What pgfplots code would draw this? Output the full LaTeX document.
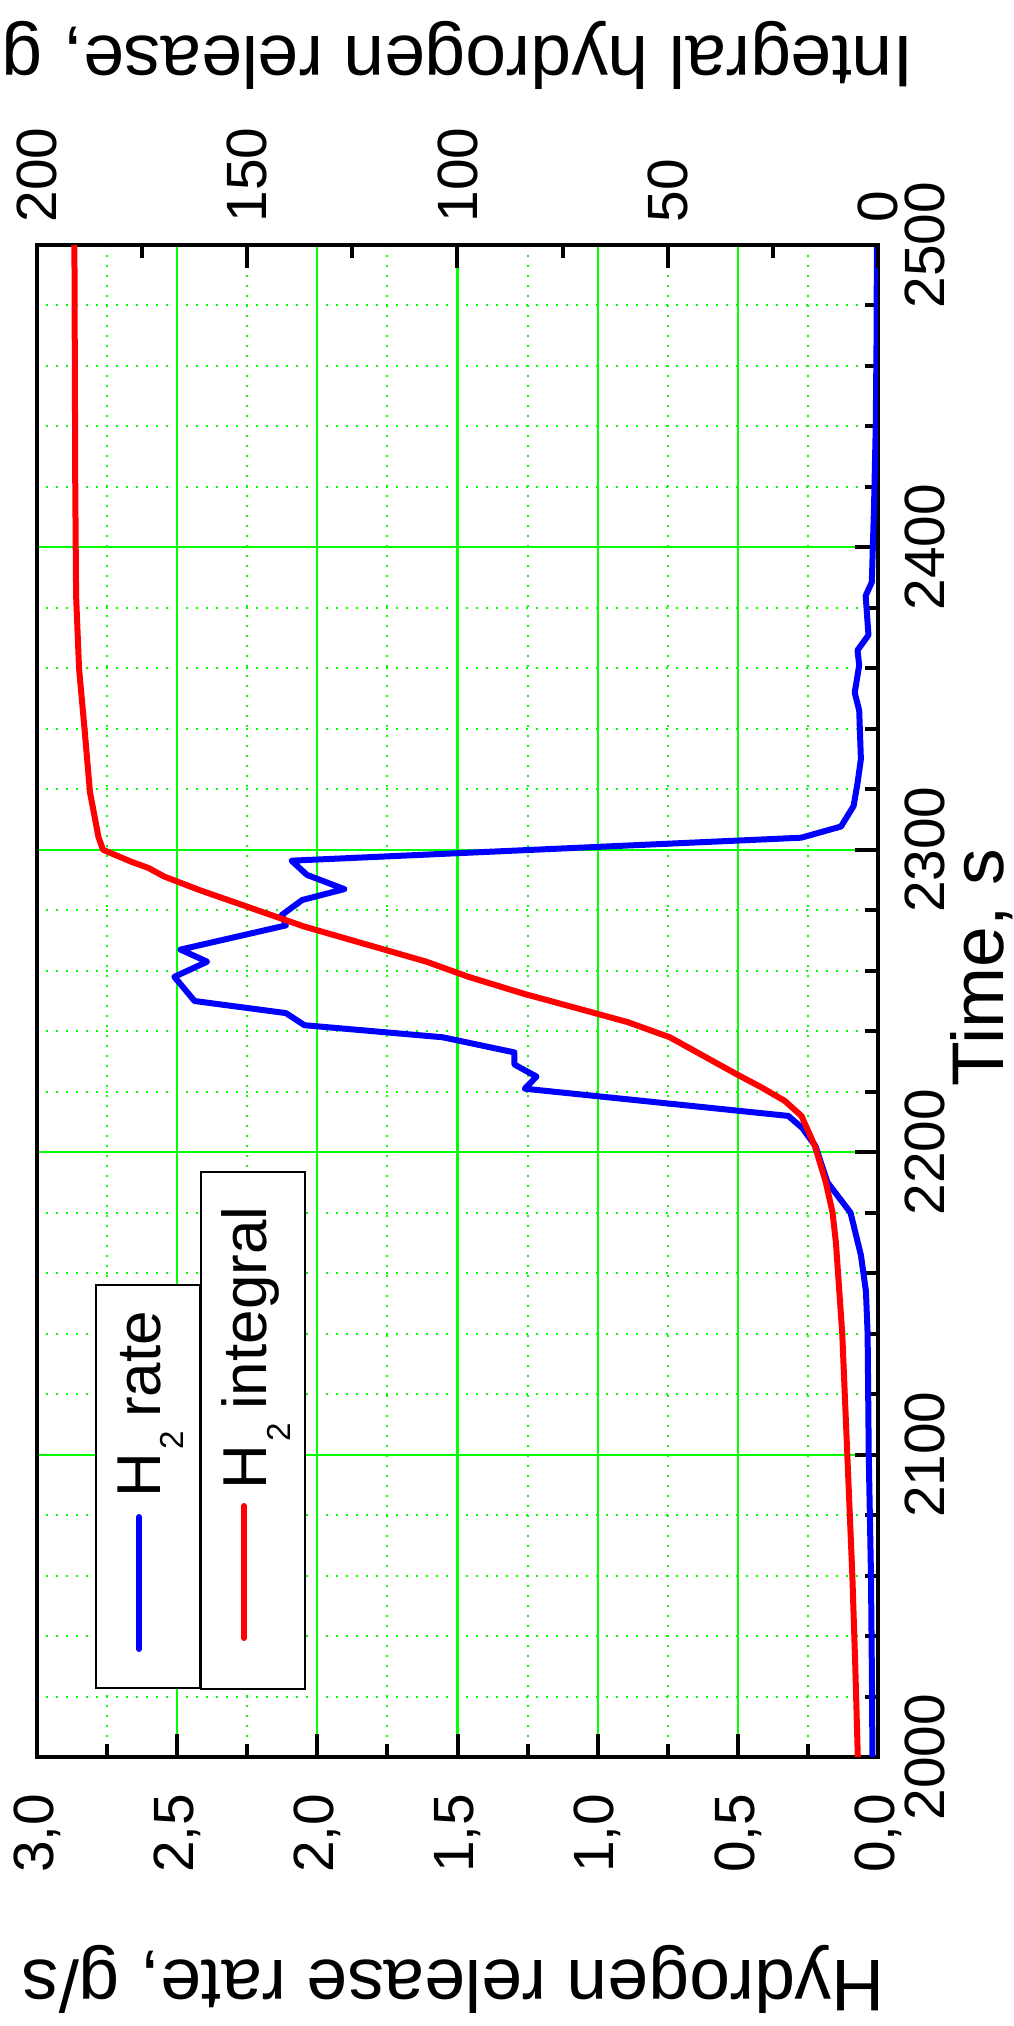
\documentclass[border=0pt]{standalone}
\usepackage{fontspec}
\setmainfont{Liberation Sans}
\usepackage{graphicx}
\usepackage{pgfplots}
\usepackage{pgfplotstable}
\pgfplotsset{compat=1.18}
\definecolor{hblue}{RGB}{0,0,255}
\definecolor{hred}{RGB}{255,0,0}
\definecolor{hgreen}{RGB}{0,255,0}

\pgfplotstableread{
t r
2000 0.020
2020 0.021
2040 0.023
2060 0.025
2080 0.029
2100 0.033
2120 0.035
2140 0.037
2154 0.043
2166 0.061
2180 0.098
2190 0.180
2202 0.223
2208 0.270
2212 0.320
2221 1.260
2225 1.218
2229 1.297
2233 1.297
2238 1.553
2242 2.046
2246 2.112
2250 2.438
2258 2.510
2263 2.393
2267 2.488
2275 2.112
2278.5 2.126
2283.4 2.054
2287 1.904
2291.7 2.037
2296.4 2.092
2304 0.274
2307.7 0.132
2314.5 0.087
2322 0.073
2330 0.061
2346 0.067
2352 0.083
2361 0.067
2366 0.073
2371 0.034
2384 0.044
2388.5 0.022
2414 0.014
2440 0.008
2470 0.005
2500 0.004
}\ratetable

\pgfplotstableread{
t m
2000 4.8
2030 5.4
2060 6.1
2100 7.3
2140 8.5
2170 10.0
2180 10.8
2190 12.4
2202 15.0
2212 18.2
2217 22.2
2221.5 27.8
2226 33.9
2238 49.5
2243 59.5
2246.4 68.4
2252.3 84.0
2258 97.4
2263 107.4
2267 117.4
2274.6 136.4
2286.7 161.4
2291.2 169.8
2294 173.5
2296 177.5
2300 184.3
2304.3 185.4
2311 186.3
2319 187.4
2340 188.7
2360 190.0
2384 190.7
2420 190.9
2500 191.1
}\inttable

\newcommand{\tickfont}{\fontsize{14.2}{16}\selectfont}
\newcommand{\labfont}{\fontsize{18.3}{22}\selectfont}
\newcommand{\legfont}{\fontsize{15.5}{18}\selectfont}
\newcommand{\Hsub}{H\hspace{0.6pt}\raisebox{-5.9pt}{\fontsize{8.3}{9}\selectfont 2}\hspace{3.4pt}}

\begin{document}
\rotatebox{90}{%
\begin{tikzpicture}
\begin{axis}[
  scale only axis, width=378pt, height=210.25pt,
  xmin=2000, xmax=2500, ymin=0, ymax=3,
  xtick={2000,2100,2200,2300,2400,2500}, minor x tick num=4,
  ytick={0,0.5,1,1.5,2,2.5,3}, minor y tick num=1,
  tick align=inside, xtick pos=bottom, ytick pos=left,
  major tick length=5.75pt, minor tick length=3.25pt,
  tick style={black, line width=1.0pt},
  axis line style={line width=1.1pt},
  grid=both,
  major grid style={hgreen, line width=0.55pt, solid},
  minor grid style={hgreen, line width=0.5pt, dash pattern=on 0.6pt off 1.9pt},
  /pgf/number format/assume math mode=true,
  xlabel={Time, s},
  xlabel style={at={(axis description cs:0.522,-0.14982)}, anchor=base, inner sep=0pt, font=\labfont},
  ylabel={Hydrogen release rate, g/s},
  ylabel style={at={(axis description cs:-0.13426,0.505)}, anchor=base, inner sep=0pt, font=\labfont},
  xticklabel style={font=\tickfont, anchor=north, inner sep=0pt, yshift=-6.5pt, /pgf/number format/1000 sep={}},
  yticklabel style={font=\tickfont, anchor=east, inner sep=0pt, xshift=-9pt, /pgf/number format/.cd, use comma, fixed, fixed zerofill, precision=1},
  legend style={at={(axis description cs:0.04497,0.93103)}, anchor=north west, draw=black, line width=0.5pt, fill=white, inner xsep=0pt, inner ysep=0pt, font=\legfont, cells={anchor=west}, nodes={inner sep=0pt, text depth=0pt, text width=53pt, align=left}, /tikz/column sep=0pt},
  legend image code/.code={\path[draw=none, fill=none] (0pt,-15.25pt) rectangle (47.75pt,10.75pt); \draw[#1, line cap=round] (9.75pt,0pt) -- (42.75pt,0pt);},
]
\addplot[hblue, line width=1.5pt, line join=round] table[x=t, y=r] {\ratetable};
\addlegendentry{\Hsub rate}
\end{axis}
\begin{axis}[
  scale only axis, width=378pt, height=210.25pt,
  xmin=2000, xmax=2500, ymin=0, ymax=200,
  axis x line=none, axis y line=right,
  ytick={0,50,100,150,200}, minor y tick num=1,
  tick align=inside,
  major tick length=5.75pt, minor tick length=3.25pt,
  tick style={black, line width=1.0pt},
  axis line style={-, line width=1.1pt},
  /pgf/number format/assume math mode=true,
  ylabel={Integral hydrogen release, g},
  ylabel style={at={(axis description cs:1.13757,0.5)}, anchor=base, inner sep=0pt, font=\labfont},
  yticklabel style={font=\tickfont, anchor=west, inner sep=0pt, xshift=5.5pt},
  legend style={at={(axis description cs:0.04431,0.80618)}, anchor=north west, draw=black, line width=0.5pt, fill=white, inner xsep=0pt, inner ysep=0pt, font=\legfont, cells={anchor=west}, nodes={inner sep=0pt, text depth=0pt, text width=79.25pt, align=left}, /tikz/column sep=0pt},
  legend image code/.code={\path[draw=none, fill=none] (0pt,-15.25pt) rectangle (50pt,10.75pt); \draw[#1, line cap=round] (12.75pt,0pt) -- (45.75pt,0pt);},
]
\addplot[hred, line width=1.5pt, line join=round] table[x=t, y=m] {\inttable};
\addlegendentry{\Hsub integral}
\end{axis}
\pgfresetboundingbox
\path[use as bounding box] (-67.25pt,-34pt) rectangle (439.25pt,219.5pt);
\end{tikzpicture}%
}
\end{document}
